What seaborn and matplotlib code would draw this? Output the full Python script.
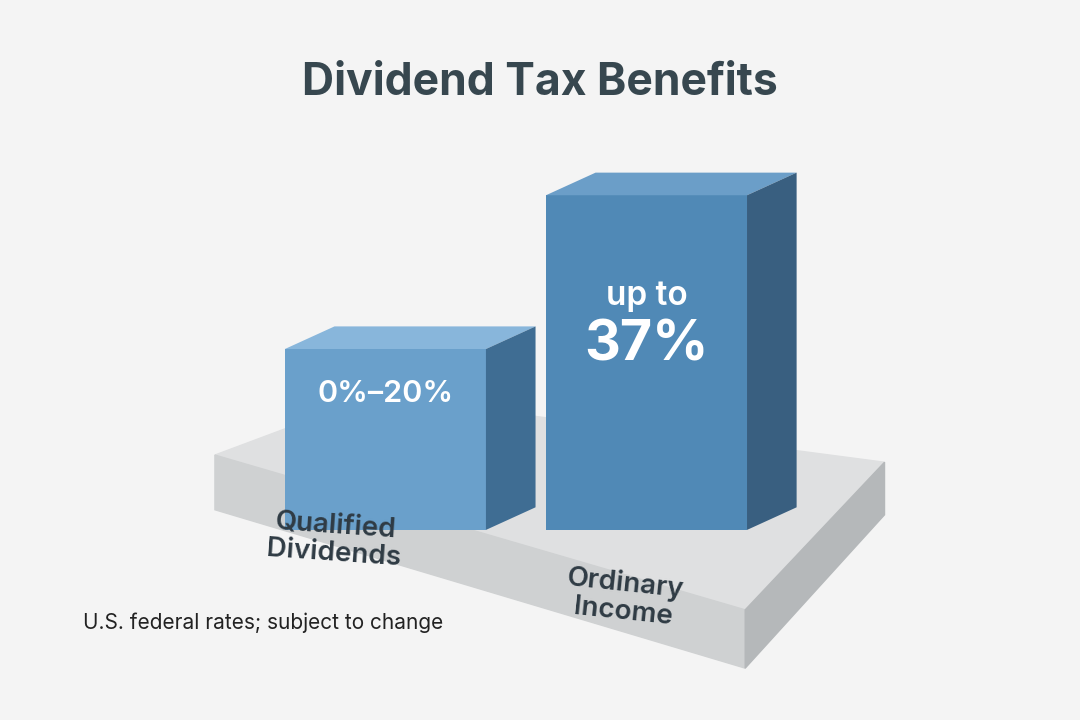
import matplotlib
matplotlib.use("Agg")
import matplotlib.pyplot as plt
import seaborn as sns
import pandas as pd
from matplotlib.patches import Polygon

categories = ["Qualified\nDividends", "Ordinary\nIncome"]
rates = [20, 37]
bar_labels = [("0%–20%",), ("up to", "37%")]
title = "Dividend Tax Benefits"
note = "U.S. federal rates; subject to change"

sns.set_theme(style="white")
plt.rcParams['font.family'] = ['Inter', 'DejaVu Sans']
bg = "#f4f4f4"
fig = plt.figure(figsize=(10.8, 7.2), dpi=100, facecolor=bg)

slab = [
    ([(0.199, 0.368), (0.347, 0.451), (0.819, 0.358), (0.690, 0.153)], "#dfe0e1"),
    ([(0.199, 0.368), (0.690, 0.153), (0.690, 0.072), (0.199, 0.292)], "#cfd1d2"),
    ([(0.690, 0.153), (0.819, 0.358), (0.819, 0.285), (0.690, 0.072)], "#b5b8ba"),
]
for pts, c in slab:
    fig.patches.append(Polygon(pts, closed=True, transform=fig.transFigure, color=c, zorder=0))

ax = fig.add_axes([0.236, 0.264, 0.556, 0.5])
ax.set_zorder(2)
ax.set_facecolor("none")
df = pd.DataFrame({"cat": categories, "rate": rates})
sns.barplot(data=df, x="cat", y="rate", ax=ax, color="#5b93bf", width=0.77, saturation=1)
ax.set_ylim(0, 39.8)
ax.set_xlim(-0.5, 1.8)
dx, dy = 0.19, 2.5
for i, bar in enumerate(ax.patches):
    x, w, h = bar.get_x(), bar.get_width(), bar.get_height()
    bar.set_facecolor("#6aa0cb" if i == 0 else "#5089b6")
    bar.set_edgecolor("none")
    ax.add_patch(Polygon([(x, h), (x + dx, h + dy), (x + w + dx, h + dy), (x + w, h)],
                         color="#88b6db" if i == 0 else "#6b9ec8", zorder=3, lw=0))
    ax.add_patch(Polygon([(x + w, 0), (x + w + dx, dy), (x + w + dx, h + dy), (x + w, h)],
                         color="#3f6d93" if i == 0 else "#395f80", zorder=3, lw=0))
    if i == 0:
        ax.text(x + w / 2, h * 0.75, bar_labels[i][0], ha="center", va="center", color="white",
                fontsize=22, fontweight="semibold")
    else:
        ax.text(x + w / 2, h * 0.70, bar_labels[i][0], ha="center", va="center", color="white",
                fontsize=24, fontweight="semibold")
        ax.text(x + w / 2, h * 0.55, bar_labels[i][1], ha="center", va="center", color="white",
                fontsize=40, fontweight="bold")
ax.set_xticks([])
ax.set_yticks([])
ax.set_xlabel("")
ax.set_ylabel("")
sns.despine(ax=ax, left=True, bottom=True)

fig.text(0.31, 0.25, categories[0], ha="center", va="center", fontsize=20,
         fontweight="semibold", color="#2f3b44", linespacing=1.1, rotation=-4, zorder=3)
fig.text(0.578, 0.17, categories[1], ha="center", va="center", fontsize=20,
         fontweight="semibold", color="#2f3b44", linespacing=1.1, rotation=-6, zorder=3)
fig.text(0.5, 0.885, title, ha="center", va="center", fontsize=32, fontweight="bold", color="#37474f")
fig.text(0.077, 0.135, note, ha="left", va="center", fontsize=15, color="#222222", zorder=3)
fig.savefig("out.png", dpi=100, facecolor=bg)
